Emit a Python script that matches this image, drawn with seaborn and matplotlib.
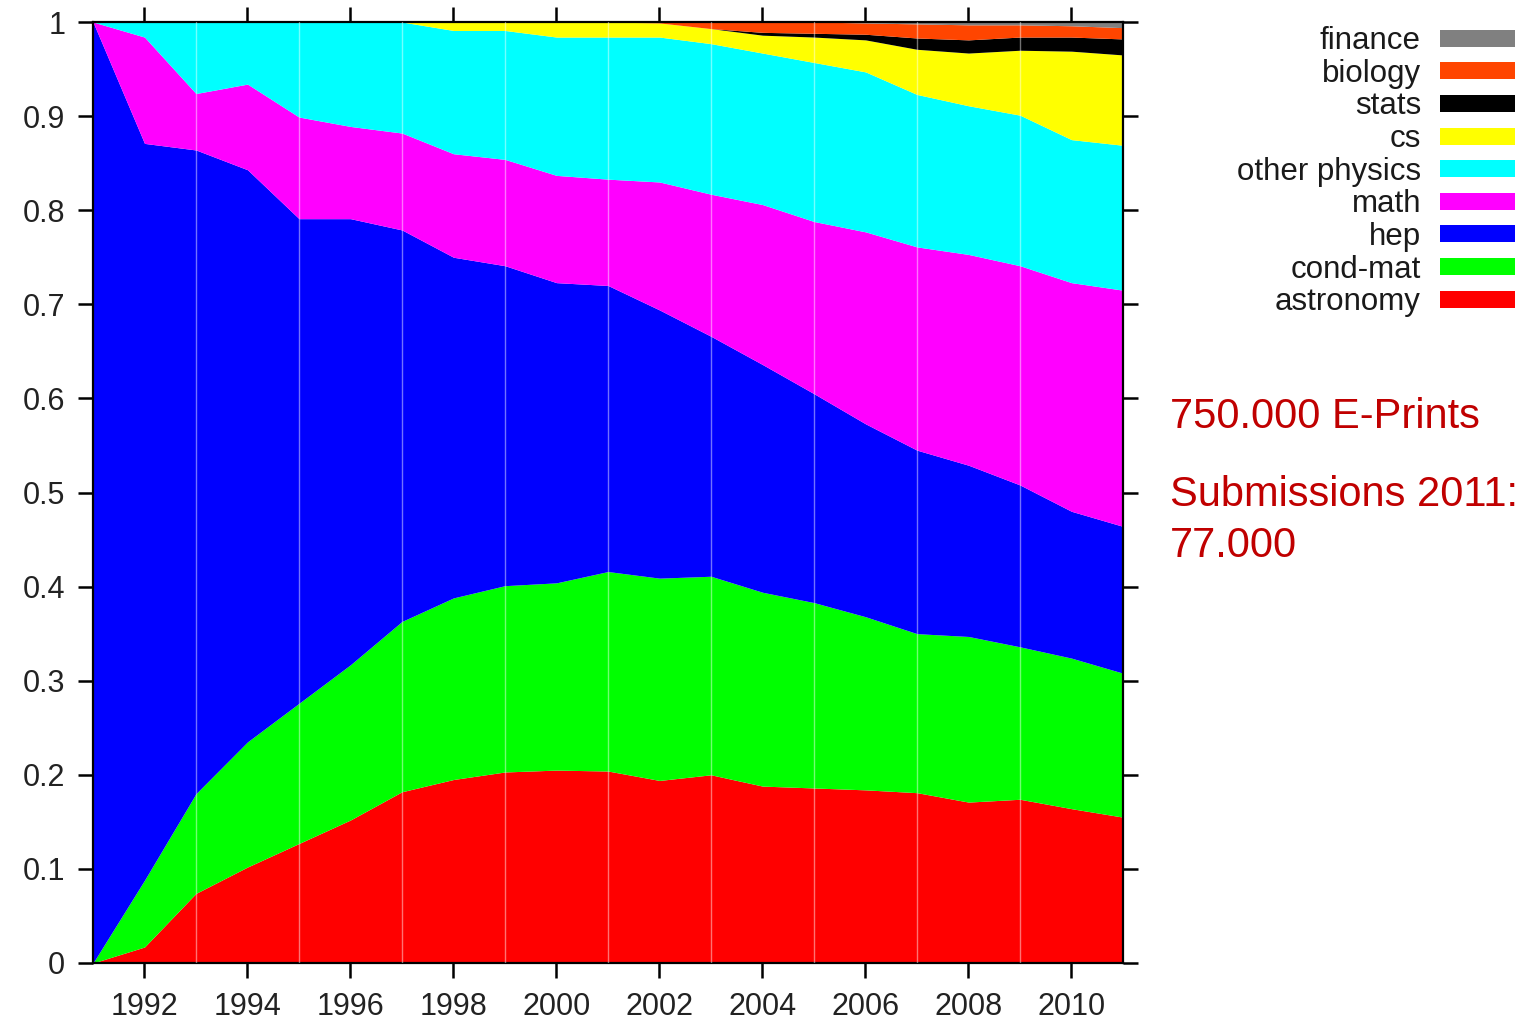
import numpy as np
import seaborn as sns
import matplotlib.pyplot as plt
from matplotlib.patches import Rectangle

# Anteil der arXiv-Einreichungen je Fachgebiet, 1991-2011
years = list(range(1991, 2012))

astronomy = [0.0, 0.017, 0.074, 0.102, 0.127, 0.152, 0.182, 0.195, 0.203, 0.205, 0.204,
             0.194, 0.200, 0.188, 0.186, 0.184, 0.181, 0.171, 0.174, 0.164, 0.155]
cond_mat = [0.0, 0.071, 0.106, 0.133, 0.149, 0.165, 0.181, 0.193, 0.198, 0.199, 0.212,
            0.215, 0.211, 0.206, 0.197, 0.184, 0.169, 0.176, 0.162, 0.160, 0.153]
hep = [1.0, 0.783, 0.684, 0.608, 0.515, 0.474, 0.416, 0.362, 0.340, 0.319, 0.304,
       0.285, 0.255, 0.242, 0.222, 0.205, 0.195, 0.182, 0.172, 0.156, 0.156]
math_ = [0.0, 0.113, 0.060, 0.091, 0.108, 0.098, 0.103, 0.110, 0.113, 0.114, 0.113,
         0.136, 0.151, 0.170, 0.183, 0.204, 0.216, 0.224, 0.233, 0.243, 0.251]
other_physics = [0.0, 0.016, 0.076, 0.066, 0.101, 0.111, 0.118, 0.131, 0.137, 0.147, 0.151,
                 0.154, 0.160, 0.161, 0.169, 0.170, 0.162, 0.158, 0.160, 0.152, 0.154]
cs = [0.0, 0.0, 0.0, 0.0, 0.0, 0.0, 0.0, 0.009, 0.009, 0.016, 0.016,
      0.015, 0.016, 0.019, 0.027, 0.034, 0.048, 0.056, 0.069, 0.094, 0.096]
stats = [0.0, 0.0, 0.0, 0.0, 0.0, 0.0, 0.0, 0.0, 0.0, 0.0, 0.0,
         0.0, 0.0, 0.003, 0.004, 0.006, 0.012, 0.014, 0.014, 0.015, 0.017]
biology = [0.0, 0.0, 0.0, 0.0, 0.0, 0.0, 0.0, 0.0, 0.0, 0.0, 0.0,
           0.001, 0.007, 0.011, 0.012, 0.012, 0.015, 0.016, 0.013, 0.012, 0.012]
finance = [0.0, 0.0, 0.0, 0.0, 0.0, 0.0, 0.0, 0.0, 0.0, 0.0, 0.0,
           0.0, 0.0, 0.0, 0.0, 0.001, 0.002, 0.003, 0.003, 0.004, 0.006]

# Reihenfolge von unten nach oben
labels = ['astronomy', 'cond-mat', 'hep', 'math', 'other physics', 'cs', 'stats', 'biology', 'finance']
series = [astronomy, cond_mat, hep, math_, other_physics, cs, stats, biology, finance]
colors = ['#ff0000', '#00ff00', '#0000ff', '#ff00ff', '#00ffff', '#ffff00', '#000000', '#ff4500', '#808080']

xticks = list(range(1992, 2011, 2))
yticks = [0, 0.1, 0.2, 0.3, 0.4, 0.5, 0.6, 0.7, 0.8, 0.9, 1]
ytick_labels = ['0', '0.1', '0.2', '0.3', '0.4', '0.5', '0.6', '0.7', '0.8', '0.9', '1']

sns.set_theme(style="white")
plt.rcParams['font.family'] = ['Liberation Sans', 'DejaVu Sans']

W, H = 1526, 1025
fig = plt.figure(figsize=(W / 100, H / 100), dpi=100)
ax = fig.add_axes([93 / W, 1 - 963 / H, (1123 - 93) / W, (963 - 22) / H])


def fx(px):
    return px / W


def fy(py):
    return 1 - py / H


ax.stackplot(years, *series, colors=colors, linewidth=0, antialiased=True)

# feine weisse Linien bei ungeraden Jahren
for yr in range(1993, 2011, 2):
    ax.axvline(yr, color='white', alpha=0.45, lw=1.0, zorder=3)

ax.set_xlim(1991, 2011)
ax.set_ylim(0, 1)
ax.set_xticks(xticks)
ax.set_xticklabels([str(y) for y in xticks])
ax.set_yticks(yticks)
ax.set_yticklabels(ytick_labels)
ax.tick_params(axis='both', which='major', direction='out', length=11, width=1.8,
               color='black', labelsize=22, labelcolor='#222222',
               top=True, right=True, bottom=True, left=True,
               labeltop=False, labelright=False)
ax.tick_params(axis='y', pad=9)
ax.tick_params(axis='x', pad=10)
for s in ax.spines.values():
    s.set_visible(True)
    s.set_color('black')
    s.set_linewidth(1.6)
ax.grid(False)

# Legende von Hand: Text rechtsbuendig, Farbbalken daneben
row0 = 38.3
step = 32.6
for i, (lab, col) in enumerate(zip(labels[::-1], colors[::-1])):
    cy = row0 + i * step
    fig.text(fx(1421), fy(cy + 11), lab, ha='right', va='baseline',
             fontsize=22.5, color='#1a1a1a')
    fig.patches.append(Rectangle((fx(1440), fy(cy + 8.5)), fx(75), 17 / H,
                                 transform=fig.transFigure, facecolor=col,
                                 edgecolor='none'))

red = '#c00000'
fig.text(fx(1170), fy(428), '750.000 E-Prints', ha='left', va='baseline',
         fontsize=30, color=red)
fig.text(fx(1170), fy(506), 'Submissions 2011:', ha='left', va='baseline',
         fontsize=30, color=red)
fig.text(fx(1170), fy(557), '77.000', ha='left', va='baseline',
         fontsize=30, color=red)

fig.savefig('out.png', dpi=100)
